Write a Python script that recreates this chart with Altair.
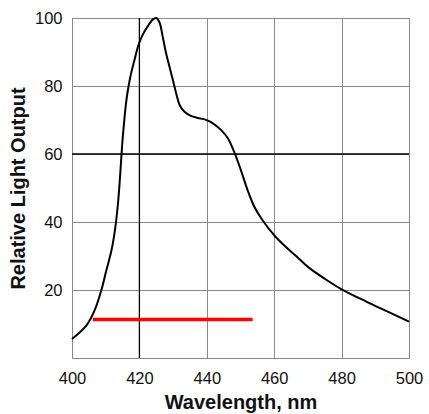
import altair as alt
import pandas as pd

# Emission spectrum (relative light output vs wavelength)
wavelength = [400.0, 404.3, 406.7, 408.7, 410.2, 411.7, 412.8, 413.6, 414.2, 414.7,
              415.2, 416.1, 416.9, 417.6, 418.6, 419.7, 421.0, 422.5, 424.0, 425.0,
              426.0, 426.9, 427.9, 428.9, 429.9, 430.9, 431.9, 433.3, 435.3, 437.3,
              439.6, 441.7, 444.2, 446.2, 448.1, 450.1, 452.1, 454.1, 456.5, 460.0,
              463.4, 466.5, 470.0, 475.0, 480.0, 487.3, 494.0, 500.0]
output = [5.6, 9.6, 14.0, 19.9, 25.8, 31.6, 38.0, 45.0, 52.5, 60.0,
          66.5, 75.5, 80.6, 84.0, 87.9, 92.0, 95.1, 97.6, 99.6, 100.0,
          98.6, 94.6, 89.7, 85.8, 81.9, 77.9, 74.5, 72.5, 71.2, 70.6,
          70.1, 69.1, 67.1, 64.7, 60.7, 55.3, 49.4, 44.5, 40.6, 36.1,
          32.7, 30.0, 26.8, 23.3, 20.2, 16.6, 13.5, 10.7]

# Highlighted band
band_start = [406.2]
band_end = [453.6]
band_level = [11.3]

curve = pd.DataFrame({"wavelength": wavelength, "output": output})
band = pd.DataFrame({"x": band_start, "x2": band_end, "y": band_level})

x_scale = alt.Scale(domain=[400, 500], nice=False)
y_scale = alt.Scale(domain=[0, 100], nice=False)

FONT = "Liberation Sans"
GRID = "#8a8a8a"

x_axis = alt.Axis(values=[400, 420, 440, 460, 480, 500], title="Wavelength, nm",
                  grid=True, gridColor=GRID, gridWidth=1, domain=False,
                  ticks=False, labelPadding=12, labelFontSize=16.5, labelFont=FONT,
                  labelColor="#111", labelFlush=False, labelOverlap=False,
                  titleFont=FONT, titleFontSize=20, titleFontWeight="bold",
                  titleColor="#111", titlePadding=6)
y_axis = alt.Axis(values=[20, 40, 60, 80, 100], title="Relative Light Output",
                  grid=True, gridColor=GRID, gridWidth=1, domain=False,
                  ticks=False, labelPadding=10, labelFontSize=16.5, labelFont=FONT,
                  labelColor="#111", labelFlush=False, labelOverlap=False,
                  titleFont=FONT, titleFontSize=20, titleFontWeight="bold",
                  titleColor="#111", titlePadding=6)

line = alt.Chart(curve).mark_line(color="black", strokeWidth=2,
                                  interpolate="catmull-rom").encode(
    x=alt.X("wavelength:Q", scale=x_scale, axis=x_axis),
    y=alt.Y("output:Q", scale=y_scale, axis=y_axis),
)

# Emphasised reference lines
vref = alt.Chart(pd.DataFrame({"x": [420]})).mark_rule(color="black", strokeWidth=1.3).encode(
    x=alt.X("x:Q", scale=x_scale)
)
href = alt.Chart(pd.DataFrame({"y": [60]})).mark_rule(color="black", strokeWidth=1.3).encode(
    y=alt.Y("y:Q", scale=y_scale)
)

red = alt.Chart(band).mark_rule(color="#ff0000", strokeWidth=3.5).encode(
    x=alt.X("x:Q", scale=x_scale),
    x2="x2:Q",
    y=alt.Y("y:Q", scale=y_scale),
)

chart = alt.layer(vref, href, line, red).properties(
    width=337, height=340,
    padding={"left": 72, "top": 18, "right": 20, "bottom": 56},
    autosize=alt.AutoSizeParams(type="none"),
    background="white",
).configure_view(stroke=GRID, strokeWidth=1)

chart.save("out.html", embed_options={"renderer": "svg", "actions": False})
